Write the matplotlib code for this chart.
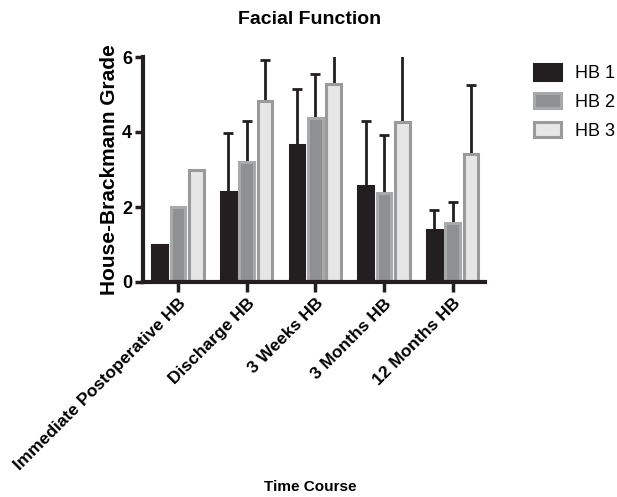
import numpy as np
import matplotlib
matplotlib.use("Agg")
from matplotlib import pyplot as plt

categories = ["Immediate Postoperative HB", "Discharge HB", "3 Weeks HB",
              "3 Months HB", "12 Months HB"]
series = ["HB 1", "HB 2", "HB 3"]
means = [
    [1.0, 2.4, 3.65, 2.57, 1.39],
    [2.0, 3.19, 4.38, 2.38, 1.58],
    [3.0, 4.83, 5.27, 4.27, 3.41],
]
# upper error (SD); first group has none
errs = [
    [0.0, 1.58, 1.51, 1.72, 0.53],
    [0.0, 1.11, 1.17, 1.54, 0.56],
    [0.0, 1.09, 1.6, 2.2, 1.84],
]

fills = ["#231f20", "#8f9092", "#e6e6e6"]
edges = ["#231f20", "#a8a9ab", "#9a9a9a"]

plt.rcParams['font.family'] = ['Liberation Sans', 'DejaVu Sans']

fig = plt.figure(figsize=(6.17, 4.97), dpi=100)
ax = fig.add_axes([143/617, 1 - 282/497, (485-143)/617, (282-57)/497])

x = np.arange(len(categories))
slot = 0.267
bw = 0.215
for i in range(3):
    pos = x + (i - 1) * slot
    ax.bar(pos, means[i], width=bw, color=fills[i], edgecolor=edges[i],
           linewidth=2.2, label=series[i], zorder=2)
    e = np.array(errs[i])
    m = e > 0
    ax.errorbar(pos[m], np.array(means[i])[m], yerr=[np.zeros(m.sum()), e[m]],
                fmt='none', ecolor='#231f20', elinewidth=2, capsize=3.5,
                capthick=2, zorder=1, clip_on=True)

ax.set_xlim(-0.51, 4.47)
ax.set_ylim(0, 6)
ax.set_yticks([0, 2, 4, 6])
ax.set_xticks(x)
ax.set_xticklabels(categories, rotation=45, ha='right', rotation_mode='anchor',
                   fontsize=12.5, fontweight='bold')
for lbl in ax.get_yticklabels():
    lbl.set_fontsize(13)
    lbl.set_fontweight('bold')

for s in ['top', 'right']:
    ax.spines[s].set_visible(False)
for s in ['left', 'bottom']:
    ax.spines[s].set_linewidth(3)
    ax.spines[s].set_color('#231f20')
ax.tick_params(axis='y', width=2.5, length=6, color='#231f20', pad=2)
ax.tick_params(axis='x', width=2.5, length=7, color='#231f20', pad=3)

ax.set_ylabel("House-Brackmann Grade", fontsize=15, fontweight='bold', labelpad=2)
fig.text(310/617, 1 - 20/497, "Facial Function", ha='center', va='center',
         fontsize=14, fontweight='bold')
fig.text(310/617, 1 - 487/497, "Time Course", ha='center', va='center',
         fontsize=11, fontweight='bold')

fig.legend(*ax.get_legend_handles_labels(), loc='upper left',
           bbox_to_anchor=(534/617, 1 - 64/497), frameon=False,
           fontsize=13, handlelength=1.5, handleheight=0.95, labelspacing=0.6,
           handletextpad=0.75, borderpad=0, borderaxespad=0)

fig.savefig("out.png", dpi=100)
